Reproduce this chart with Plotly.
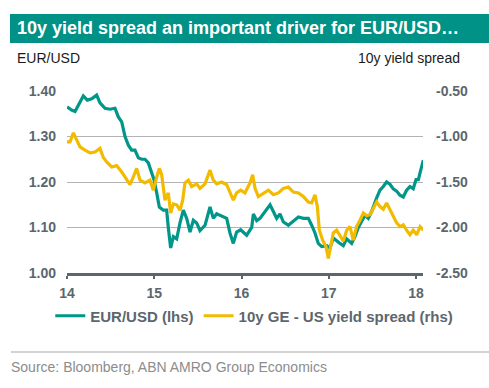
import plotly.graph_objects as go

# EUR/USD (lhs), x in decimal years
eur_x = [2014.000, 2014.053, 2014.092, 2014.149, 2014.187, 2014.233, 2014.283, 2014.340, 2014.378,
         2014.436, 2014.493, 2014.550, 2014.588, 2014.627, 2014.665, 2014.703, 2014.741, 2014.779,
         2014.818, 2014.856, 2014.894, 2014.932, 2014.970, 2014.997, 2015.028, 2015.058, 2015.104,
         2015.142, 2015.161, 2015.188, 2015.219, 2015.257, 2015.295, 2015.333, 2015.372, 2015.410,
         2015.448, 2015.486, 2015.524, 2015.582, 2015.639, 2015.677, 2015.715, 2015.773, 2015.830,
         2015.868, 2015.906, 2015.944, 2015.990, 2016.059, 2016.117, 2016.136, 2016.174, 2016.212,
         2016.269, 2016.327, 2016.365, 2016.403, 2016.441, 2016.480, 2016.537, 2016.594, 2016.652,
         2016.709, 2016.766, 2016.804, 2016.842, 2016.880, 2016.919, 2016.976, 2017.014, 2017.052,
         2017.090, 2017.129, 2017.167, 2017.205, 2017.262, 2017.300, 2017.339, 2017.377, 2017.415,
         2017.453, 2017.491, 2017.549, 2017.587, 2017.625, 2017.663, 2017.701, 2017.739, 2017.778,
         2017.816, 2017.854, 2017.892, 2017.930, 2017.968, 2018.000, 2018.027, 2018.046, 2018.065,
         2018.084]
eur_y = [1.365, 1.358, 1.355, 1.374, 1.389, 1.380, 1.383, 1.391, 1.374,
         1.362, 1.360, 1.362, 1.343, 1.332, 1.300, 1.281, 1.270, 1.270,
         1.253, 1.250, 1.250, 1.242, 1.222, 1.205, 1.176, 1.145, 1.138,
         1.138, 1.100, 1.055, 1.080, 1.075, 1.110, 1.138, 1.120, 1.090,
         1.116, 1.110, 1.093, 1.105, 1.145, 1.120, 1.130, 1.125, 1.120,
         1.088, 1.065, 1.090, 1.095, 1.083, 1.100, 1.130, 1.115, 1.120,
         1.135, 1.150, 1.135, 1.120, 1.130, 1.112, 1.105, 1.115, 1.123,
         1.120, 1.120, 1.105, 1.088, 1.065, 1.058, 1.060, 1.055, 1.077,
         1.070, 1.065, 1.060, 1.075, 1.065, 1.080, 1.100, 1.115, 1.127,
         1.120, 1.135, 1.165, 1.182, 1.190, 1.200, 1.195, 1.185, 1.180,
         1.171, 1.167, 1.182, 1.190, 1.185, 1.205, 1.205, 1.220, 1.235,
         1.248]

# 10y GE - US yield spread (rhs)
spr_x = [2014.000, 2014.034, 2014.073, 2014.103, 2014.149, 2014.206, 2014.264, 2014.321, 2014.378,
         2014.416, 2014.455, 2014.512, 2014.569, 2014.627, 2014.684, 2014.722, 2014.760, 2014.798,
         2014.837, 2014.894, 2014.951, 2014.989, 2015.028, 2015.058, 2015.085, 2015.123, 2015.161,
         2015.188, 2015.219, 2015.257, 2015.295, 2015.326, 2015.352, 2015.391, 2015.429, 2015.486,
         2015.524, 2015.582, 2015.639, 2015.677, 2015.715, 2015.773, 2015.830, 2015.868, 2015.906,
         2015.944, 2015.990, 2016.040, 2016.097, 2016.128, 2016.155, 2016.193, 2016.250, 2016.308,
         2016.365, 2016.422, 2016.480, 2016.537, 2016.594, 2016.652, 2016.709, 2016.766, 2016.804,
         2016.842, 2016.869, 2016.892, 2016.930, 2016.968, 2016.995, 2017.021, 2017.052, 2017.090,
         2017.129, 2017.167, 2017.205, 2017.243, 2017.281, 2017.319, 2017.358, 2017.396, 2017.434,
         2017.472, 2017.510, 2017.549, 2017.587, 2017.625, 2017.663, 2017.701, 2017.739, 2017.778,
         2017.816, 2017.854, 2017.892, 2017.930, 2017.968, 2018.008, 2018.046, 2018.084]
spr_y = [-1.06, -1.06, -0.96, -1.02, -1.115, -1.15, -1.18, -1.17, -1.13,
         -1.23, -1.28, -1.335, -1.32, -1.39, -1.48, -1.53, -1.445, -1.35,
         -1.48, -1.51, -1.48, -1.59, -1.445, -1.35, -1.42, -1.70, -1.62,
         -1.84, -1.74, -1.75, -1.81, -1.70, -1.51, -1.48, -1.55, -1.52,
         -1.57, -1.52, -1.37, -1.48, -1.52, -1.50, -1.53, -1.62, -1.70,
         -1.62, -1.59, -1.62, -1.51, -1.42, -1.57, -1.66, -1.62, -1.59,
         -1.64, -1.62, -1.57, -1.555, -1.61, -1.62, -1.66, -1.72, -1.73,
         -1.64, -1.77, -2.03, -2.14, -2.21, -2.34, -2.21, -2.06, -2.03,
         -2.10, -2.15, -2.03, -1.99, -2.14, -1.99, -1.92, -1.84, -1.87,
         -1.86, -1.79, -1.72, -1.77, -1.80, -1.73, -1.80, -1.87, -1.95,
         -1.99, -1.97, -2.03, -2.08, -2.03, -2.08, -1.99, -2.03]

x_tickvals = [2014, 2015, 2016, 2017, 2018]
x_ticktext = ["14", "15", "16", "17", "18"]
left_ticks = [1.00, 1.10, 1.20, 1.30, 1.40]
right_ticks = [-2.50, -2.00, -1.50, -1.00, -0.50]

TEAL = "#00968a"
GOLD = "#f2bb00"
AXC = "#5b676d"
FONT = "Liberation Sans, Arial, sans-serif"
W, H = 489, 388

fig = go.Figure()
fig.add_trace(go.Scatter(x=eur_x, y=eur_y, mode="lines", name="<b>EUR/USD (lhs)</b>",
                         line=dict(color=TEAL, width=3.2), yaxis="y"))
fig.add_trace(go.Scatter(x=spr_x, y=spr_y, mode="lines", name="<b>10y GE - US yield spread (rhs)</b>",
                         line=dict(color=GOLD, width=3.2), yaxis="y2"))

fig.update_layout(
    width=W, height=H, autosize=False,
    margin=dict(l=0, r=0, t=0, b=0, autoexpand=False),
    paper_bgcolor="white", plot_bgcolor="white",
    font=dict(family=FONT, color=AXC),
    showlegend=True,
    legend=dict(orientation="h", x=0.52, xanchor="center", y=1 - 316 / H, yanchor="middle",
                font=dict(size=15, color=AXC, family=FONT), itemwidth=30,
                bgcolor="rgba(0,0,0,0)"),
    xaxis=dict(domain=[67 / W, 423 / W], range=[2014.0, 2018.08], automargin=False,
               tickvals=x_tickvals, ticktext=["<b>%s</b>" % t for t in x_ticktext],
               showgrid=False, zeroline=False, showline=True, linecolor=AXC, linewidth=3,
               ticks="outside", ticklen=3, tickwidth=2, tickcolor=AXC,
               tickfont=dict(size=14, color=AXC), ticklabelstandoff=2),
    yaxis=dict(domain=[(H - 273) / H, (H - 91) / H], range=[1.0, 1.4], automargin=False,
               tickvals=left_ticks, ticktext=["<b>%.2f</b>" % v for v in left_ticks],
               showgrid=True, gridcolor="#b3b3b3", gridwidth=1.3, zeroline=False,
               showline=False, ticks="", tickfont=dict(size=14, color=AXC),
               ticklabelstandoff=10),
    yaxis2=dict(overlaying="y", side="right", range=[-2.5, -0.5], automargin=False,
                tickvals=right_ticks, ticktext=["<b>%.2f</b>" % v for v in right_ticks],
                showgrid=False, zeroline=False, showline=False, ticks="",
                tickfont=dict(size=14, color=AXC), ticklabelstandoff=12),
    shapes=[
        dict(type="rect", xref="paper", yref="paper", x0=10 / W, x1=1.0,
             y0=1 - 43 / H, y1=1 - 14 / H, fillcolor="#009286", line=dict(width=0), layer="below"),
        dict(type="line", xref="paper", yref="paper", x0=11 / W, x1=1.0,
             y0=1 - 352 / H, y1=1 - 352 / H, line=dict(color="#c4c4c4", width=1.5)),
    ],
    annotations=[
        dict(text="<b>10y yield spread an important driver for EUR/USD…</b>", xref="paper", yref="paper",
             x=15 / W, y=1 - 28.5 / H, xanchor="left", yanchor="middle", showarrow=False,
             font=dict(size=18, color="white", family=FONT)),
        dict(text="EUR/USD", xref="paper", yref="paper", x=15 / W, y=1 - 58 / H,
             xanchor="left", yanchor="middle", showarrow=False,
             font=dict(size=14, color="#1a1a1a", family=FONT)),
        dict(text="10y yield spread", xref="paper", yref="paper", x=462 / W, y=1 - 58 / H,
             xanchor="right", yanchor="middle", showarrow=False,
             font=dict(size=14, color="#1a1a1a", family=FONT)),
        dict(text="Source: Bloomberg, ABN AMRO Group Economics", xref="paper", yref="paper",
             x=9 / W, y=1 - 367 / H, xanchor="left", yanchor="middle", showarrow=False,
             font=dict(size=14, color="#8c8c8c", family=FONT)),
    ],
)

fig.write_html("out.html", config={"displayModeBar": False},
               post_script="document.body.style.margin='0';document.body.style.overflow='hidden';")
